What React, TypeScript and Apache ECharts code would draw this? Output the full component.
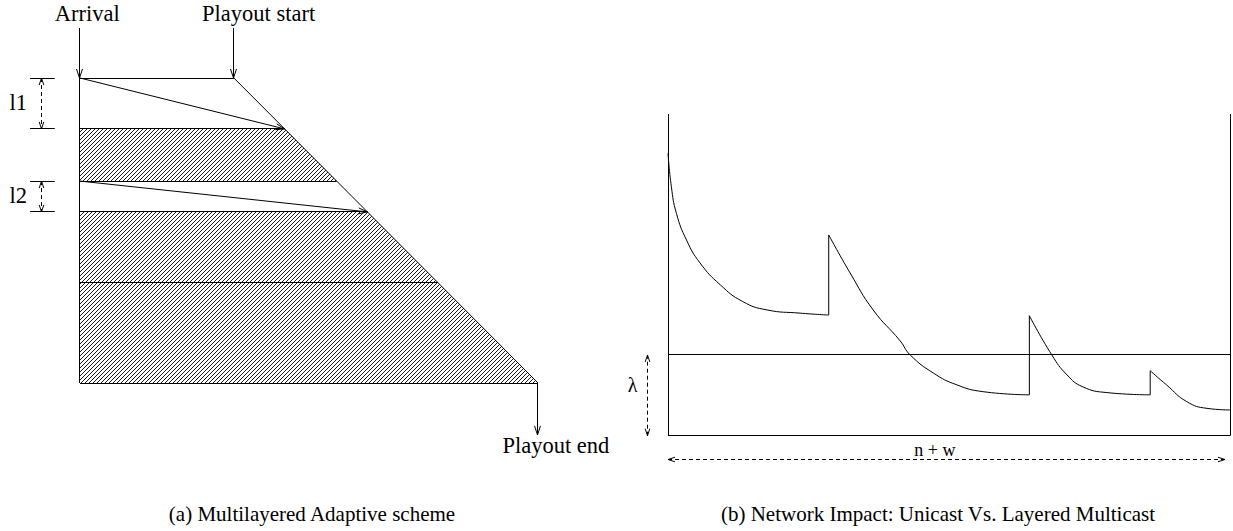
import React, { useEffect, useRef } from 'react';
import * as echarts from 'echarts';

// ---------- Panel (a): multilayered adaptive scheme ----------
// time axis: arrival = 0, playout end = 100 ; depth axis: top layer = 0, bottom = 100
const layerBounds = [0, 16.7, 33.8, 43.9, 66.9, 100];
const hatchedLayers = [[16.7, 33.8], [43.9, 100]];
const playoutStartT = 33.6;
const playoutEndT = 100;
const packetArrows = [[0, 16.7], [33.8, 43.9]]; // [start depth at arrival, target depth]
const dimNames = ['l1', 'l2'];
const dimRanges = [[0, 16.7], [33.8, 43.9]];
const labelNamesA = ['Arrival', 'Playout start', 'Playout end'];
const labelPosA = [[1.6, -21.2], [39, -21.2], [103.9, 120.5]];

// ---------- Panel (b): network impact ----------
const lambdaLevel = 25.1;
const decay1 = [[0, 87.8], [0.6, 77.4], [1.5, 69.1], [3.3, 60.8], [5.7, 53.7], [9.3, 46.9], [13.3, 41.7], [17.6, 39.1], [23.5, 38.1], [28.6, 37.5]];
const decay2 = [[28.6, 62.4], [32.4, 50.6], [36.5, 39.1], [41.3, 29.5], [43.1, 25.1], [47.2, 19.5], [51.4, 15.8], [56.0, 13.7], [64.3, 12.7]];
const decay3 = [[64.3, 37.3], [68.3, 25.1], [71.0, 18.9], [73.8, 15.2], [78.1, 13.4], [85.8, 12.7]];
const decay4 = [[85.8, 20.2], [88.7, 15.8], [92.3, 10.6], [95.9, 8.5], [100, 8.0]];
const labelNamesB = ['\u03bb', 'n + w'];
const labelPosB = [[-6.3, 15.8], [47.5, -4.6]];

const captions = ['(a) Multilayered Adaptive scheme', '(b) Network Impact: Unicast Vs. Layered Multicast'];

const FONT = 'Liberation Serif, DejaVu Serif, serif';

function diagT(depth: number) {
  return playoutStartT + ((playoutEndT - playoutStartT) * depth) / 100;
}

function headPts(p1: number[], p2: number[], L: number, W: number) {
  const dx = p2[0] - p1[0];
  const dy = p2[1] - p1[1];
  const len = Math.hypot(dx, dy) || 1;
  const ux = dx / len, uy = dy / len;
  const nx = -uy, ny = ux;
  return [
    [p2[0] - L * ux + W * nx, p2[1] - L * uy + W * ny],
    [p2[0], p2[1]],
    [p2[0] - L * ux - W * nx, p2[1] - L * uy - W * ny],
  ];
}

const crisp = (v: number) => Math.round(v - 0.5) + 0.5;

function renderSeg(params: any, api: any) {
  const p1 = api.coord([api.value(0), api.value(1)]);
  const p2 = api.coord([api.value(2), api.value(3)]);
  // pixel-snap axis-aligned lines so they render as crisp 1px strokes
  if (Math.abs(p1[1] - p2[1]) < 0.01) { p1[1] = crisp(p1[1]); p2[1] = p1[1]; }
  if (Math.abs(p1[0] - p2[0]) < 0.01) { p1[0] = crisp(p1[0]); p2[0] = p1[0]; }
  const kind = api.value(4);
  const base = { stroke: '#000', lineWidth: 1, fill: null as any };
  const children: any[] = [
    {
      type: 'line',
      shape: { x1: p1[0], y1: p1[1], x2: p2[0], y2: p2[1] },
      style: kind === 2 ? { ...base, lineDash: [4, 3] } : base,
    },
  ];
  if (kind === 1) {
    children.push({ type: 'polyline', shape: { points: headPts(p1, p2, 9, 3) }, style: base });
  } else if (kind === 2) {
    children.push({ type: 'polyline', shape: { points: headPts(p1, p2, 7, 2.3) }, style: base });
    children.push({ type: 'polyline', shape: { points: headPts(p2, p1, 7, 2.3) }, style: base });
  }
  return { type: 'group', children };
}

function makeTextRender(names: string[], sizes: number[]) {
  return (params: any, api: any) => {
    const p = api.coord([api.value(0), api.value(1)]);
    return {
      type: 'text',
      x: p[0],
      y: p[1],
      style: {
        text: names[params.dataIndex],
        fontFamily: FONT,
        fontSize: sizes[params.dataIndex],
        fill: '#000',
        align: 'center',
        verticalAlign: 'middle',
      },
    };
  };
}

export default function App() {
  const ref = useRef<HTMLDivElement>(null);

  useEffect(() => {
    if (!ref.current) return;
    const chart = echarts.init(ref.current, null, { renderer: 'svg' });

    // hatch pattern
    const cv = document.createElement('canvas');
    cv.width = 4;
    cv.height = 4;
    const ctx = cv.getContext('2d')!;
    ctx.fillStyle = '#1a1a1a';
    for (let i = 0; i < 4; i++) ctx.fillRect(3 - i, i, 1, 1);
    const hatch: any = { image: cv.toDataURL(), repeat: 'repeat', imageWidth: 4, imageHeight: 4 };

    // panel (a) segments: [t1, d1, t2, d2, kind]  kind 0 plain, 1 arrow, 2 dashed double arrow
    const segA: number[][] = [];
    segA.push([0, 0, playoutStartT, 0, 0]);
    segA.push([playoutStartT, 0, playoutEndT, 100, 0]);
    segA.push([0, 0, 0, 100, 0]);
    segA.push([0, 100, playoutEndT, 100, 0]);
    layerBounds.slice(1, -1).forEach((b) => segA.push([0, b, diagT(b), b, 0]));
    packetArrows.forEach(([a, b]) => segA.push([0, a, diagT(b), b, 1]));
    segA.push([0, -16.4, 0, 0, 1]);
    segA.push([playoutStartT, -16.4, playoutStartT, 0, 1]);
    segA.push([playoutEndT, 100, playoutEndT, 117, 1]);
    dimRanges.forEach(([f, t]) => {
      segA.push([-10.9, f, -5.5, f, 0]);
      segA.push([-10.9, t, -5.5, t, 0]);
      segA.push([-8.3, f, -8.3, t, 2]);
    });
    const dimLabelPos = dimRanges.map(([f, t]) => [-13.5, (f + t) / 2 - 0.3]);

    // panel (b) segments
    const segB: number[][] = [
      [0, 0, 0, 100, 0],
      [100, 0, 100, 100, 0],
      [0, 0, 100, 0, 0],
      [0, lambdaLevel, 100, lambdaLevel, 0],
      [-3.56, 0, -3.56, lambdaLevel, 2],
      [0, -7.55, 99.1, -7.55, 2],
    ];

    const decays = [decay1, decay2, decay3, decay4];
    const jumps = decays.slice(1).map((d, i) => [decays[i][decays[i].length - 1], d[0]]);

    const curveSeries: any[] = decays.map((d) => ({
      type: 'line',
      xAxisIndex: 1,
      yAxisIndex: 1,
      data: d,
      showSymbol: false,
      smooth: 0.5,
      lineStyle: { color: '#000', width: 1 },
      silent: true,
    }));
    const jumpSeries: any[] = jumps.map((j) => ({
      type: 'line',
      xAxisIndex: 1,
      yAxisIndex: 1,
      data: j,
      showSymbol: false,
      lineStyle: { color: '#000', width: 1 },
      silent: true,
    }));

    const option: any = {
      animation: false,
      backgroundColor: '#fff',
      grid: [
        { left: 6.72, top: 1.75, width: 604.56, height: 457.5 },
        { left: 623.04, top: 114, width: 609.77, height: 353.87 },
      ],
      xAxis: [
        { type: 'value', gridIndex: 0, min: -16, max: 116, show: false },
        { type: 'value', gridIndex: 1, min: -8, max: 100.5, show: false },
      ],
      yAxis: [
        { type: 'value', gridIndex: 0, min: -25, max: 125, inverse: true, show: false },
        { type: 'value', gridIndex: 1, min: -10, max: 100, show: false },
      ],
      series: [
        {
          type: 'custom',
          xAxisIndex: 0,
          yAxisIndex: 0,
          data: hatchedLayers,
          silent: true,
          z: 1,
          renderItem: (params: any, api: any) => {
            const d1 = api.value(0);
            const d2 = api.value(1);
            const pts = [
              api.coord([0, d1]),
              api.coord([diagT(d1), d1]),
              api.coord([diagT(d2), d2]),
              api.coord([0, d2]),
            ];
            return { type: 'polygon', shape: { points: pts }, style: { fill: hatch, stroke: null } };
          },
        },
        {
          type: 'custom',
          xAxisIndex: 0,
          yAxisIndex: 0,
          data: segA,
          silent: true,
          z: 2,
          renderItem: renderSeg,
        },
        {
          type: 'custom',
          xAxisIndex: 0,
          yAxisIndex: 0,
          data: labelPosA,
          silent: true,
          z: 3,
          renderItem: makeTextRender(labelNamesA, [22.5, 22.5, 22.5]),
        },
        {
          type: 'custom',
          xAxisIndex: 0,
          yAxisIndex: 0,
          data: dimLabelPos,
          silent: true,
          z: 3,
          renderItem: makeTextRender(dimNames, [22.5, 22.5]),
        },
        {
          type: 'custom',
          xAxisIndex: 1,
          yAxisIndex: 1,
          data: segB,
          silent: true,
          z: 2,
          renderItem: renderSeg,
        },
        {
          type: 'custom',
          xAxisIndex: 1,
          yAxisIndex: 1,
          data: labelPosB,
          silent: true,
          z: 3,
          renderItem: makeTextRender(labelNamesB, [20, 18]),
        },
        ...curveSeries,
        ...jumpSeries,
      ],
      graphic: [
        {
          type: 'text',
          x: 312,
          y: 514,
          silent: true,
          style: { text: captions[0], fontFamily: FONT, fontSize: 21, fill: '#000', align: 'center', verticalAlign: 'middle' },
        },
        {
          type: 'text',
          x: 938,
          y: 514,
          silent: true,
          style: { text: captions[1], fontFamily: FONT, fontSize: 21, fill: '#000', align: 'center', verticalAlign: 'middle' },
        },
      ],
    };

    chart.setOption(option);
    return () => chart.dispose();
  }, []);

  return (
    <div
      ref={ref}
      style={{ position: 'fixed', left: 0, top: 0, width: 1233, height: 531, background: '#fff' }}
    />
  );
}
